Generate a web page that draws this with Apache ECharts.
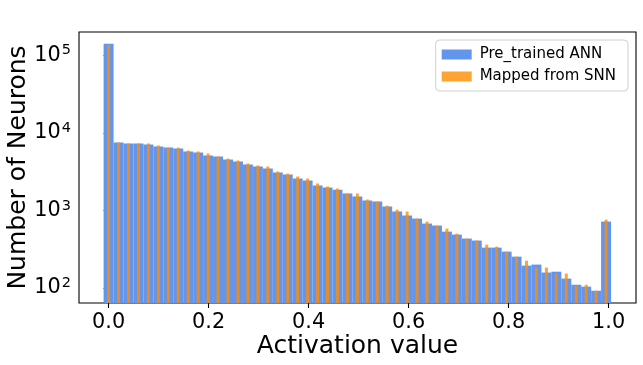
<!DOCTYPE html>
<html>
<head>
<meta charset="utf-8">
<script src="https://cdn.jsdelivr.net/npm/echarts@6/dist/echarts.min.js"></script>
<style>
html,body{margin:0;padding:0;background:#fff;}
#chart{width:643px;height:365px;}
</style>
</head>
<body>
<div id="chart"></div>
<script>
// histogram bins: first bin centre and bin width
var binStart = 0.0;
var binWidth = 0.0199;
// counts per bin
var annCounts = [140000, 7500, 7280, 7280, 7060, 6650, 6450, 6270, 5740, 5570,
    5090, 4940, 4520, 4260, 3900, 3670, 3460, 3070, 2900, 2570,
    2420, 2090, 1970, 1850, 1650, 1510, 1340, 1300, 1120, 965,
    857, 783, 676, 637, 532, 487, 433, 408, 331, 331,
    294, 253, 194, 200, 158, 162, 132, 110, 104, 92,
    717];
var snnCounts = [135000, 7500, 7280, 7280, 7280, 6860, 6450, 6450, 5910, 5740,
    5410, 4940, 4650, 4390, 4020, 3790, 3670, 3170, 2980, 2730,
    2570, 2220, 2030, 1910, 1650, 1650, 1380, 1300, 1150, 1020,
    965, 783, 717, 637, 582, 502, 433, 408, 362, 341,
    294, 253, 225, 183, 183, 153, 153, 107, 110, 92,
    760];
var xTicks = [0, 0.2, 0.4, 0.6, 0.8, 1.0];
var yTicks = [100, 1000, 10000, 100000];
var yMinorTicks = [70, 80, 90, 200, 300, 400, 500, 600, 700, 800, 900,
    2000, 3000, 4000, 5000, 6000, 7000, 8000, 9000,
    20000, 30000, 40000, 50000, 60000, 70000, 80000, 90000];
var seriesNames = ['Pre_trained ANN', 'Mapped from SNN'];

var font = 'DejaVu Sans';
var X_MIN = -0.0592, X_MAX = 1.0548;
var Y_MIN = 64, Y_MAX = 199000;

function pairs(counts){
    var out = [];
    for (var i = 0; i < counts.length; i++) {
        out.push([binStart + i * binWidth, counts[i]]);
    }
    return out;
}

var mychart = echarts.init(document.getElementById('chart'));
var option = {
    backgroundColor: '#fff',
    animation: false,
    grid: {
        show: true,
        left: 79, right: 7, top: 32, bottom: 62,
        containLabel: false,
        outerBoundsMode: 'none',
        borderColor: '#000', borderWidth: 1.1,
        backgroundColor: 'transparent'
    },
    legend: {
        orient: 'vertical',
        right: 15, top: 40,
        padding: [7, 12, 7, 6],
        itemWidth: 30, itemHeight: 10, itemGap: 7,
        backgroundColor: 'rgba(255,255,255,0.8)',
        borderColor: '#d0d0d0', borderWidth: 1, borderRadius: 4,
        icon: 'rect',
        textStyle: {fontFamily: font, fontSize: 15, color: '#000', padding: [0, 0, 0, 3]},
        data: seriesNames
    },
    xAxis: [{
        type: 'value',
        min: X_MIN, max: X_MAX,
        name: 'Activation value',
        nameLocation: 'middle',
        nameGap: 31,
        nameMoveOverlap: false,
        nameTextStyle: {fontFamily: font, fontSize: 25, color: '#000'},
        axisLine: {show: false},
        splitLine: {show: false},
        axisTick: {show: true, inside: false, length: 5, lineStyle: {color: '#000', width: 1.1}, customValues: xTicks},
        axisLabel: {
            margin: 9,
            fontFamily: font, fontSize: 20.8, color: '#000',
            customValues: xTicks,
            formatter: function(v){ return v.toFixed(1); }
        }
    }, {
        type: 'value',
        min: X_MIN, max: X_MAX,
        show: false
    }],
    yAxis: [{
        type: 'log',
        logBase: 10,
        min: Y_MIN, max: Y_MAX,
        name: 'Number of Neurons',
        nameLocation: 'middle',
        nameGap: 48,
        nameMoveOverlap: false,
        nameTextStyle: {fontFamily: font, fontSize: 25, color: '#000'},
        axisLine: {show: false},
        splitLine: {show: false},
        axisTick: {show: true, inside: false, length: 5, lineStyle: {color: '#000', width: 1.1}, customValues: yTicks},
        axisLabel: {
            margin: 8,
            customValues: yTicks,
            formatter: function(v){
                return '{b|10}{s|' + Math.round(Math.log10(v)) + '}';
            },
            rich: {
                b: {fontFamily: font, fontSize: 20.8, color: '#000'},
                s: {fontFamily: font, fontSize: 14.5, color: '#000', padding: [0, 0, 9, 1]}
            }
        }
    }, {
        type: 'log',
        logBase: 10,
        min: Y_MIN, max: Y_MAX,
        position: 'left',
        axisLine: {show: false},
        splitLine: {show: false},
        axisLabel: {show: false},
        axisTick: {show: true, inside: false, length: 3, lineStyle: {color: '#000', width: 0.8}, customValues: yMinorTicks}
    }],
    series: [{
        name: seriesNames[0],
        type: 'bar',
        xAxisIndex: 0, yAxisIndex: 0,
        barWidth: 10,
        clip: true,
        itemStyle: {color: '#6495ED'},
        data: pairs(annCounts)
    }, {
        name: seriesNames[1],
        type: 'bar',
        xAxisIndex: 1, yAxisIndex: 0,
        barWidth: 3,
        clip: true,
        itemStyle: {color: 'rgba(255,140,0,0.8)'},
        data: pairs(snnCounts)
    }]
};
mychart.setOption(option);
</script>
</body>
</html>
